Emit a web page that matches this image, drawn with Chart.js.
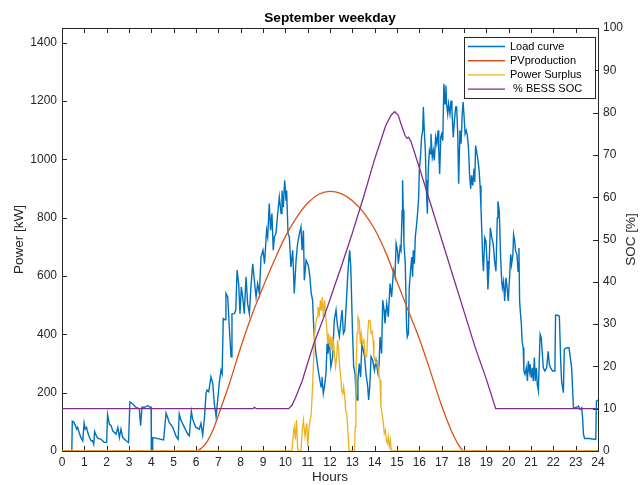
<!DOCTYPE html>
<html>
<head>
<meta charset="utf-8">
<title>September weekday</title>
<script src="https://cdn.jsdelivr.net/npm/chart.js@4/dist/chart.umd.min.js"></script>
<style>
  html, body { margin: 0; padding: 0; background: #ffffff; }
  canvas { display: block; }
</style>
</head>
<body>
<canvas id="chart" width="640" height="485" style="width:640px;height:485px"></canvas>
<script>
// Load curve of a September weekday: hour of day and demand in kW
const loadHours = [
  0,0.44,0.46,0.52,0.6,0.66,0.7,0.78,0.85,0.93,
  0.99,1.04,1.1,1.15,1.22,1.3,1.37,1.42,1.46,1.52,
  1.6,1.75,1.9,2.0,2.04,2.12,2.2,2.27,2.42,2.5,
  2.57,2.64,2.72,2.87,2.98,3.04,3.16,3.3,3.46,3.52,
  3.58,3.7,3.84,3.94,3.99,4.0,4.04,4.06,4.2,4.43,
  4.55,4.66,4.73,4.8,4.96,5.1,5.2,5.25,5.33,5.48,
  5.63,5.7,5.79,5.85,5.93,6.0,6.15,6.22,6.3,6.38,
  6.45,6.5,6.57,6.67,6.75,6.82,6.9,6.97,7.04,7.12,
  7.17,7.22,7.3,7.34,7.42,7.49,7.57,7.61,7.72,7.78,
  7.84,7.91,7.97,8.03,8.09,8.16,8.24,8.31,8.39,8.46,
  8.54,8.61,8.69,8.76,8.84,8.91,9.0,9.07,9.16,9.21,
  9.28,9.34,9.4,9.46,9.51,9.58,9.66,9.73,9.81,9.85,
  9.91,9.97,10.03,10.06,10.12,10.18,10.25,10.33,10.4,10.48,
  10.55,10.63,10.7,10.75,10.81,10.85,10.93,11.0,11.04,11.1,
  11.16,11.22,11.27,11.31,11.37,11.45,11.52,11.6,11.64,11.7,
  11.75,11.82,11.87,11.91,11.97,12.04,12.12,12.19,12.27,12.34,
  12.42,12.49,12.54,12.6,12.66,12.72,12.79,12.84,12.88,12.93,
  12.97,13.01,13.06,13.12,13.16,13.21,13.25,13.31,13.37,13.43,
  13.49,13.55,13.61,13.69,13.73,13.78,13.84,13.91,13.99,14.06,
  14.1,14.15,14.2,14.24,14.31,14.36,14.42,14.46,14.54,14.61,
  14.69,14.76,14.84,14.91,14.96,15.02,15.06,15.14,15.18,15.23,
  15.25,15.28,15.31,15.37,15.43,15.46,15.51,15.55,15.61,15.66,
  15.7,15.73,15.78,15.82,15.88,15.92,15.97,16.0,16.06,16.1,
  16.15,16.18,16.22,16.27,16.3,16.33,16.36,16.4,16.45,16.48,
  16.52,16.58,16.63,16.67,16.73,16.78,16.84,16.87,16.91,16.96,
  17.0,17.05,17.1,17.15,17.19,17.22,17.27,17.31,17.37,17.42,
  17.46,17.52,17.57,17.63,17.67,17.72,17.76,17.82,17.87,17.92,
  17.96,18.0,18.05,18.1,18.15,18.2,18.25,18.3,18.34,18.39,
  18.45,18.48,18.52,18.57,18.62,18.67,18.72,18.76,18.8,18.83,
  18.87,18.93,18.98,19.03,19.07,19.12,19.18,19.25,19.31,19.37,
  19.43,19.49,19.52,19.58,19.64,19.69,19.72,19.77,19.82,19.88,
  19.93,19.98,20.04,20.09,20.13,20.19,20.22,20.27,20.31,20.37,
  20.42,20.46,20.49,20.52,20.57,20.6,20.65,20.68,20.73,20.79,
  20.84,20.88,20.93,20.96,21.01,21.06,21.1,21.15,21.19,21.24,
  21.28,21.33,21.37,21.41,21.46,21.5,21.55,21.62,21.7,21.77,
  21.82,21.88,21.97,22.07,22.1,22.16,22.27,22.33,22.37,22.45,
  22.49,22.6,22.7,22.76,22.82,22.9,22.97,23.05,23.12,23.2,
  23.27,23.31,23.35,23.4,23.6,23.9,23.93,24.0
];
const loadKW = [
  0,0,102,100,87,75,81,60,46,35,
  96,75,81,64,49,35,35,23,67,55,
  44,40,29,30,125,92,87,69,58,81,
  46,75,46,35,29,168,162,150,145,87,
  150,150,156,150,150,0,0,46,44,40,
  38,130,115,98,81,52,40,127,105,81,
  58,52,136,110,92,81,75,95,55,115,
  200,209,203,254,232,163,117,175,232,277,
  265,454,450,540,528,426,323,470,471,483,
  620,574,471,563,528,471,597,506,471,563,
  642,586,528,574,540,665,688,642,757,734,
  848,757,814,688,734,745,814,871,814,893,
  836,928,859,893,745,734,631,688,540,654,
  711,745,768,688,756,585,654,642,631,597,
  540,517,426,380,334,289,254,220,254,197,
  220,266,368,334,380,289,323,448,483,426,
  392,448,483,403,414,494,597,654,688,631,
  517,403,289,266,197,175,243,300,254,368,
  346,323,266,220,175,220,323,311,277,311,
  289,266,300,391,334,517,483,437,505,460,
  574,528,620,597,711,688,642,699,688,825,
  928,825,711,642,426,391,402,562,620,665,
  597,688,642,734,779,813,870,962,1019,1076,
  1099,1179,1099,1030,928,870,813,962,1030,1019,
  1087,1007,1030,996,1076,1053,1099,1030,950,1076,
  1087,1064,1259,1190,1253,1190,1156,1190,1156,1201,
  1167,1076,1133,1179,1179,1087,916,1099,1053,1156,
  1196,1150,1087,1099,1082,1041,945,899,945,910,
  968,922,1047,1024,1001,968,910,831,751,671,
  616,731,720,651,554,631,765,730,708,651,
  616,799,856,822,662,582,559,582,514,594,
  559,514,594,674,639,674,742,720,685,674,
  616,696,514,480,434,377,354,274,263,285,
  240,308,274,297,251,285,240,320,240,285,
  228,206,308,400,388,342,285,274,285,342,
  297,285,274,274,465,466,462,308,240,200,
  348,354,354,320,285,148,148,150,154,143,
  148,114,57,43,43,40,171,175
];

// Photovoltaic production (kW)
const pvHours = [0,6,6.25,6.5,6.75,7,7.5,8,8.5,9,9.5,10,10.5,11,11.5,12,12.5,13,13.5,14,14.5,15,15.5,16,16.5,17,17.5,17.75,18,24];
const pvKW    = [0,0,10,32,70,122,232,355,465,562,652,735,800,850,880,890,882,858,818,760,680,580,482,385,272,155,58,22,0,0];

// Power surplus left after the load is served (kW)
const surplusHours = [
  0,10.3,10.36,10.4,10.45,10.5,10.55,10.6,10.7,10.76,
  10.81,10.88,10.96,11.0,11.06,11.16,11.22,11.27,11.31,11.37,
  11.42,11.46,11.52,11.57,11.61,11.66,11.7,11.76,11.81,11.85,
  11.9,11.94,11.99,12.04,12.09,12.12,12.16,12.21,12.25,12.3,
  12.34,12.39,12.43,12.48,12.52,12.57,12.61,12.66,12.7,12.75,
  12.79,12.84,12.86,13.1,13.13,13.16,13.21,13.25,13.31,13.36,
  13.4,13.46,13.52,13.58,13.64,13.69,13.73,13.79,13.84,13.88,
  13.93,13.97,14.01,14.06,14.1,14.15,14.19,14.24,14.28,14.33,
  14.39,14.43,14.48,14.52,14.57,14.61,14.66,14.7,14.75,24
];
const surplusKW = [
  0,0,60,83,40,106,10,0,0,72,
  106,50,95,15,80,129,220,323,403,437,
  460,494,470,517,480,528,460,517,460,426,
  368,403,357,392,346,390,368,323,289,323,
  380,346,289,254,209,197,220,186,140,129,
  83,15,0,0,83,243,403,460,448,368,
  403,368,380,323,323,403,448,448,403,414,
  380,323,311,300,311,289,266,243,152,129,
  95,60,72,38,26,49,15,38,0,0
];

// Battery state of charge (%)
const socHours = [0,8.55,8.62,8.7,10.15,10.3,10.5,10.75,11.0,11.25,11.5,11.75,12.0,12.25,12.5,12.75,13.0,13.25,13.5,13.75,14.0,14.25,14.5,14.75,14.9,15.05,15.2,15.35,15.45,15.52,15.63,16.0,16.5,17.0,17.5,18.0,18.5,19.0,19.42,24];
const socPct   = [10,10,10.3,10,10,10.8,13.2,16.5,20.8,25,28.5,32,35.8,39.7,43.5,47.5,51.5,55.8,60,64.5,69,73,77,79.5,80.2,79.4,77,74.7,73.9,74.2,73.1,67,58.5,50,41.5,33,24.5,17,10,10];

const seriesNames = ['Load curve', 'PVproduction', 'Power Surplus', ' % BESS SOC'];
const chartTitle = 'September weekday';
const xTitle = 'Hours';
const yLeftTitle = 'Power [kW]';
const yRightTitle = 'SOC [%]';

const FONT = '"Liberation Sans", Arial, Helvetica, sans-serif';
const INK = '#262626';
const COLORS = ['#0072BD', '#D95319', '#EDB120', '#7E2F8E'];

const toXY = (xs, ys) => xs.map((x, i) => ({ x: x, y: ys[i] }));
const plainNumber = v => String(v);

// Box, inward tick marks, title, right axis label and legend in the MATLAB style
const axesDecor = {
  id: 'axesDecor',
  beforeDatasetsDraw(chart) {
    const { ctx, chartArea: a, scales } = chart;
    const len = 5;
    ctx.save();
    ctx.strokeStyle = INK;
    ctx.lineWidth = 1;
    ctx.beginPath();
    scales.x.ticks.forEach(t => {
      const px = Math.round(scales.x.getPixelForValue(t.value)) + 0.5;
      ctx.moveTo(px, a.bottom); ctx.lineTo(px, a.bottom - len);
      ctx.moveTo(px, a.top); ctx.lineTo(px, a.top + len);
    });
    scales.y.ticks.forEach(t => {
      const py = Math.round(scales.y.getPixelForValue(t.value)) + 0.5;
      ctx.moveTo(a.left, py); ctx.lineTo(a.left + len, py);
    });
    scales.y1.ticks.forEach(t => {
      const py = Math.round(scales.y1.getPixelForValue(t.value)) + 0.5;
      ctx.moveTo(a.right, py); ctx.lineTo(a.right - len, py);
    });
    ctx.stroke();
    ctx.strokeRect(Math.round(a.left) + 0.5, Math.round(a.top) + 0.5,
                   Math.round(a.right - a.left), Math.round(a.bottom - a.top));
    ctx.restore();
  },
  afterDatasetsDraw(chart) {
    const { ctx, chartArea: a } = chart;
    ctx.save();
    // title
    ctx.fillStyle = '#000';
    ctx.font = 'bold 13.7px ' + FONT;
    ctx.textAlign = 'center';
    ctx.textBaseline = 'middle';
    ctx.fillText(chartTitle, (a.left + a.right) / 2, 18);
    // right axis label, reading bottom to top
    ctx.fillStyle = INK;
    ctx.font = '13.5px ' + FONT;
    ctx.translate(631, (a.top + a.bottom) / 2);
    ctx.rotate(-Math.PI / 2);
    ctx.fillText(yRightTitle, 0, 0);
    ctx.restore();

    // legend
    const w = 131, h = 61;
    const lx = a.right - 3 - w, ly = a.top + 9;
    ctx.save();
    ctx.fillStyle = '#ffffff';
    ctx.fillRect(lx, ly, w, h);
    ctx.strokeStyle = INK;
    ctx.lineWidth = 1;
    ctx.strokeRect(Math.round(lx) + 0.5, Math.round(ly) + 0.5, w, h);
    ctx.font = '11px ' + FONT;
    ctx.textAlign = 'left';
    ctx.textBaseline = 'middle';
    chart.data.datasets.forEach((ds, i) => {
      const ry = ly + 9.5 + i * 14.2;
      ctx.strokeStyle = ds.borderColor;
      ctx.lineWidth = 1.4;
      ctx.beginPath();
      ctx.moveTo(lx + 4, ry);
      ctx.lineTo(lx + 41, ry);
      ctx.stroke();
      ctx.fillStyle = '#000';
      ctx.fillText(ds.label, lx + 46, ry);
    });
    ctx.restore();
  }
};

const tickFont = { family: FONT, size: 12 };
const titleFont = { family: FONT, size: 13.5 };

new Chart(document.getElementById('chart'), {
  type: 'line',
  data: {
    datasets: [
      { label: seriesNames[0], data: toXY(loadHours, loadKW), borderColor: COLORS[0], yAxisID: 'y', order: 4, borderWidth: 1.4 },
      { label: seriesNames[1], data: toXY(pvHours, pvKW), borderColor: COLORS[1], yAxisID: 'y', order: 3, borderWidth: 1.3, cubicInterpolationMode: 'monotone' },
      { label: seriesNames[2], data: toXY(surplusHours, surplusKW), borderColor: COLORS[2], yAxisID: 'y', order: 2, borderWidth: 1.3 },
      { label: seriesNames[3], data: toXY(socHours, socPct), borderColor: COLORS[3], yAxisID: 'y1', order: 1, borderWidth: 1.3 }
    ]
  },
  options: {
    responsive: false,
    animation: false,
    devicePixelRatio: 1,
    layout: { padding: { top: 28, left: 0, right: 0, bottom: 0 } },
    elements: { point: { radius: 0, hoverRadius: 0 }, line: { tension: 0, fill: false } },
    plugins: { legend: { display: false }, title: { display: false }, tooltip: { enabled: false } },
    events: [],
    scales: {
      x: {
        type: 'linear', min: 0, max: 24,
        ticks: { stepSize: 1, font: tickFont, color: INK, padding: 4, maxRotation: 0, autoSkip: false, callback: plainNumber },
        grid: { display: false, drawTicks: false },
        border: { display: false },
        title: { display: true, text: xTitle, font: titleFont, color: INK, padding: { top: 0, bottom: 0 } },
        afterFit(s) { s.height = 34; }
      },
      y: {
        type: 'linear', position: 'left', min: 0, max: 1450,
        ticks: { stepSize: 200, font: tickFont, color: INK, padding: 5, callback: plainNumber },
        afterBuildTicks(s) { s.ticks = s.ticks.filter(t => t.value % 200 === 0); },
        grid: { display: false, drawTicks: false },
        border: { display: false },
        title: { display: true, text: yLeftTitle, font: titleFont, color: INK, padding: { top: 11, bottom: 0 } },
        afterFit(s) { s.width = 62; }
      },
      y1: {
        type: 'linear', position: 'right', min: 0, max: 100,
        ticks: { stepSize: 10, font: tickFont, color: INK, padding: 5, callback: plainNumber },
        grid: { display: false, drawTicks: false },
        border: { display: false },
        afterFit(s) { s.width = 42; }
      }
    }
  },
  plugins: [axesDecor]
});
</script>
</body>
</html>
